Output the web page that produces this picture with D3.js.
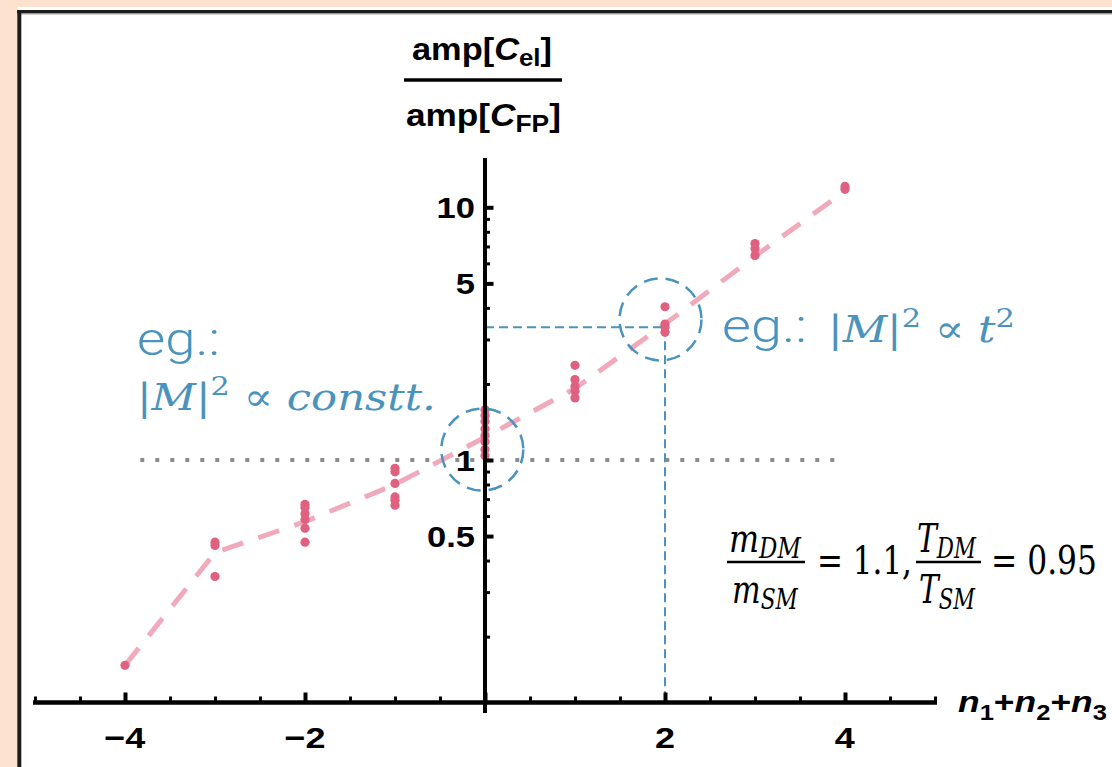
<!DOCTYPE html>
<html>
<head>
<meta charset="utf-8">
<script src="https://cdn.jsdelivr.net/npm/d3@7"></script>
<style>
  body { margin: 0; background: #fde2d0; }
  text { white-space: pre; }
</style>
</head>
<body>
<div id="container"></div>
<script>
/* CONSTANTS AND GLOBALS */
const width = 1112;
const height = 767;

// DATA ==========================================
// x value (n1+n2+n3) of every point and its amplitude ratio
const sumN = [-4,
  -3, -3, -3,
  -2, -2, -2, -2, -2, -2,
  -1, -1, -1, -1, -1, -1,
  0, 0, 0, 0, 0, 0, 0, 0,
  1, 1, 1, 1, 1,
  2, 2, 2, 2,
  3, 3, 3,
  4, 4];
const ampRatio = [0.154,
  0.473, 0.459, 0.346,
  0.668, 0.648, 0.613, 0.582, 0.537, 0.473,
  0.927, 0.898, 0.808, 0.714, 0.693, 0.662,
  1.58, 1.50, 1.42, 1.33, 1.25, 1.18, 1.10, 1.04,
  2.37, 2.08, 1.96, 1.87, 1.76,
  4.04, 3.45, 3.35, 3.20,
  7.19, 6.87, 6.45,
  12.09, 11.78];

// dashed trend line
const trendN = [-4, -3, -2, -1, 0, 1, 2, 3, 4];
const trendRatio = [0.154, 0.43, 0.57, 0.80, 1.23, 1.92, 3.45, 6.4, 11.6];

// ticks
const xMajorTicks = [-4, -2, 0, 2, 4];
const xMinorTicks = [-5, -4.5, -3.5, -3, -2.5, -1.5, -1, -0.5, 0.5, 1, 1.5, 2.5, 3, 3.5, 4.5, 5];
const xTickLabels = [-4, -2, 2, 4];
const yMajorTicks = [0.5, 1, 5, 10];
const yMinorTicks = [0.2, 0.3, 0.4, 0.6, 0.7, 0.8, 0.9, 2, 3, 4, 6, 7, 8, 9];

// reference line at ratio 1 and the annotations
const refRatio = 1;
const refExtent = [-3.83, 3.9];
const circleN = [-0.03, 1.95];
const circleRatio = [1.1, 3.6];
const guideN = 2;
const guideRatio = 3.35;

// SCALES ========================================
const x = d3.scaleLinear().domain([-5, 5]).range([35, 935]);
const y = d3.scaleLog().domain([1, 10]).range([460, 207.3]);
const xAxisY = 702.5;
const yAxisX = 485;

// HTML ELEMENTS =================================
const svg = d3.select("#container")
  .append("svg")
  .attr("width", width)
  .attr("height", height)
  .style("display", "block");

// text helper: parts with sub / sup, stretched to a width
function addText(parent, parts, o) {
  const g = parent.append("g");
  const t = g.append("text")
    .style("font-family", o.family)
    .attr("font-size", o.size)
    .attr("font-weight", o.weight || "normal")
    .attr("fill", o.fill || "#000");
  let shift = 0;
  parts.forEach(p => {
    const ts = t.append("tspan").text(p.t);
    const target = p.sub ? o.size * (o.subDy || 0.28) : p.sup ? -o.size * 0.4 : 0;
    if (target !== shift) { ts.attr("dy", target - shift); shift = target; }
    if (p.sub || p.sup) ts.attr("font-size", o.size * (o.subScale || 0.7));
    if (p.i) ts.attr("font-style", "italic");
  });
  const b = t.node().getBBox();
  const sx = o.width ? o.width / b.width : (o.sx || 1);
  const w = b.width * sx;
  const left = o.anchor === "middle" ? o.x - w / 2 : o.anchor === "end" ? o.x - w : o.x;
  g.attr("transform", `translate(${left - b.x * sx},${o.y}) scale(${sx},1)`);
  return g;
}

// frame
svg.append("rect").attr("width", width).attr("height", height).attr("fill", "#fde2d0");
svg.append("rect").attr("x", 17).attr("y", 7).attr("width", width).attr("height", height).attr("fill", "#fff");
svg.append("rect").attr("x", 17).attr("y", 10).attr("width", width).attr("height", 3.5).attr("fill", "#1c1c1c");
svg.append("rect").attr("x", 17).attr("y", 13.5).attr("width", width).attr("height", 1).attr("fill", "#aaa");
svg.append("rect").attr("x", 17.3).attr("y", 10).attr("width", 4).attr("height", height).attr("fill", "#1c1c1c");

// dotted line at 1
svg.append("line")
  .attr("x1", x(refExtent[0])).attr("x2", x(refExtent[1]))
  .attr("y1", y(refRatio)).attr("y2", y(refRatio))
  .attr("stroke", "#8c8c8c")
  .attr("stroke-width", 4)
  .attr("stroke-dasharray", "4,11");

// trend line
const trend = trendN.map((n, i) => ({ n, r: trendRatio[i] }));
svg.append("path")
  .datum(trend)
  .attr("fill", "none")
  .attr("stroke", "#f0aabb")
  .attr("stroke-width", 5)
  .attr("stroke-dasharray", "22,16")
  .attr("d", d3.line().x(d => x(d.n)).y(d => y(d.r)));

// blue guide lines
svg.append("line")
  .attr("x1", yAxisX).attr("x2", x(guideN))
  .attr("y1", y(guideRatio)).attr("y2", y(guideRatio))
  .attr("stroke", "#4a93bd").attr("stroke-width", 2)
  .attr("stroke-dasharray", "9,5");
svg.append("line")
  .attr("x1", x(guideN)).attr("x2", x(guideN))
  .attr("y1", y(guideRatio)).attr("y2", xAxisY)
  .attr("stroke", "#4a93bd").attr("stroke-width", 2)
  .attr("stroke-dasharray", "9,5");

// points
const pts = sumN.map((n, i) => ({ n, r: ampRatio[i] }));
svg.selectAll(".pt")
  .data(pts)
  .join("circle")
  .attr("class", "pt")
  .attr("cx", d => x(d.n))
  .attr("cy", d => y(d.r))
  .attr("r", 4.6)
  .attr("fill", "#e0607f");

// AXES ==========================================
const xMinor = svg.append("g")
  .attr("transform", `translate(0,${xAxisY})`)
  .call(d3.axisTop(x).tickValues(xMinorTicks).tickSize(6).tickFormat(""));
const xMajor = svg.append("g")
  .attr("transform", `translate(0,${xAxisY})`)
  .call(d3.axisTop(x).tickValues(xMajorTicks).tickSize(10).tickFormat(""));
const yMinor = svg.append("g")
  .attr("transform", `translate(${yAxisX},0)`)
  .call(d3.axisRight(y).tickValues(yMinorTicks).tickSize(5).tickFormat(""));
const yMajor = svg.append("g")
  .attr("transform", `translate(${yAxisX},0)`)
  .call(d3.axisRight(y).tickValues(yMajorTicks).tickSize(8.5).tickFormat(""));

[xMinor, xMajor, yMinor, yMajor].forEach(g => g.select(".domain").remove());
[xMinor, yMinor].forEach(g => g.selectAll(".tick line").attr("stroke", "#000").attr("stroke-width", 3));
[xMajor, yMajor].forEach(g => g.selectAll(".tick line").attr("stroke", "#000").attr("stroke-width", 4));

// axis lines
svg.append("line")
  .attr("x1", x(-5) - 2).attr("x2", x(5) + 2)
  .attr("y1", xAxisY).attr("y2", xAxisY)
  .attr("stroke", "#000").attr("stroke-width", 4.5);
svg.append("line")
  .attr("x1", yAxisX).attr("x2", yAxisX)
  .attr("y1", 158).attr("y2", 713)
  .attr("stroke", "#000").attr("stroke-width", 4);

// tick labels
const sansBold = "'Liberation Sans', Arial, sans-serif";
xTickLabels.forEach(v => {
  addText(svg, [{ t: v < 0 ? "\u2212" + Math.abs(v) : String(v) }], {
    x: x(v), y: 748, anchor: "middle", size: 30, sx: 1.2,
    family: sansBold, weight: "bold"
  });
});
yMajorTicks.forEach(v => {
  addText(svg, [{ t: String(v) }], {
    x: 475, y: y(v) + 11, anchor: "end", size: 30, sx: 1.15,
    family: sansBold, weight: "bold"
  });
});

// axis titles
addText(svg, [{ t: "amp[" }, { t: "C", i: true }, { t: "el", sub: true }, { t: "]" }], {
  x: 412, y: 60, width: 140, size: 31, family: sansBold, weight: "bold", subDy: 0.18, subScale: 0.75
});
addText(svg, [{ t: "amp[" }, { t: "C", i: true }, { t: "FP", sub: true }, { t: "]" }], {
  x: 406, y: 126, width: 155, size: 31, family: sansBold, weight: "bold", subDy: 0.18, subScale: 0.75
});
svg.append("line")
  .attr("x1", 404).attr("x2", 562).attr("y1", 80).attr("y2", 80)
  .attr("stroke", "#000").attr("stroke-width", 3.5);

addText(svg, [
  { t: "n", i: true }, { t: "1", sub: true }, { t: "+" },
  { t: "n", i: true }, { t: "2", sub: true }, { t: "+" },
  { t: "n", i: true }, { t: "3", sub: true }
], { x: 958, y: 712, width: 149, size: 30, family: sansBold, weight: "bold", subDy: 0.25, subScale: 0.72 });

// ANNOTATIONS ===================================
const blue = "#4a93bd";
circleN.forEach((n, i) => {
  svg.append("circle")
    .attr("cx", x(n)).attr("cy", y(circleRatio[i]))
    .attr("r", 41)
    .attr("fill", "none")
    .attr("stroke", blue)
    .attr("stroke-width", 2.5)
    .attr("stroke-dasharray", "14,8");
});

const geo = "Roboto, Inter, sans-serif";
const mathSerif = "'DejaVu Serif', serif";
addText(svg, [{ t: "eg.:" }], { x: 137, y: 355, width: 83, size: 46, weight: 300, family: geo, fill: blue });
addText(svg, [{ t: "|" }, { t: "M", i: true }, { t: "|" }, { t: "2", sup: true }, { t: " \u221D " }, { t: "constt.", i: true }], {
  x: 137, y: 410, width: 299, size: 38, family: mathSerif, fill: blue
});
addText(svg, [{ t: "eg.:" }], { x: 722, y: 342, width: 85, size: 46, weight: 300, family: geo, fill: blue });
addText(svg, [{ t: "|" }, { t: "M", i: true }, { t: "|" }, { t: "2", sup: true }, { t: " \u221D " }, { t: "t", i: true }, { t: "2", sup: true }], {
  x: 828, y: 342, width: 187, size: 38, family: mathSerif, fill: blue
});

// mass / temperature ratios
const fm = { size: 40, family: mathSerif, subDy: 0.15, subScale: 0.72 };
addText(svg, [{ t: "m", i: true }, { t: "DM", i: true, sub: true }], Object.assign({ x: 729, y: 552, width: 73 }, fm));
addText(svg, [{ t: "m", i: true }, { t: "SM", i: true, sub: true }], Object.assign({ x: 732, y: 603, width: 67 }, fm));
svg.append("line").attr("x1", 727).attr("x2", 805).attr("y1", 562).attr("y2", 562)
  .attr("stroke", "#000").attr("stroke-width", 2.5);
addText(svg, [{ t: "= 1.1," }], Object.assign({ x: 817, y: 574, width: 95 }, fm));
addText(svg, [{ t: "T", i: true }, { t: "DM", i: true, sub: true }], Object.assign({ x: 917, y: 552, width: 60 }, fm));
addText(svg, [{ t: "T", i: true }, { t: "SM", i: true, sub: true }], Object.assign({ x: 919, y: 603, width: 57 }, fm));
svg.append("line").attr("x1", 916).attr("x2", 981).attr("y1", 562).attr("y2", 562)
  .attr("stroke", "#000").attr("stroke-width", 2.5);
addText(svg, [{ t: "= 0.95" }], Object.assign({ x: 991, y: 574, width: 106 }, fm));
</script>
</body>
</html>
